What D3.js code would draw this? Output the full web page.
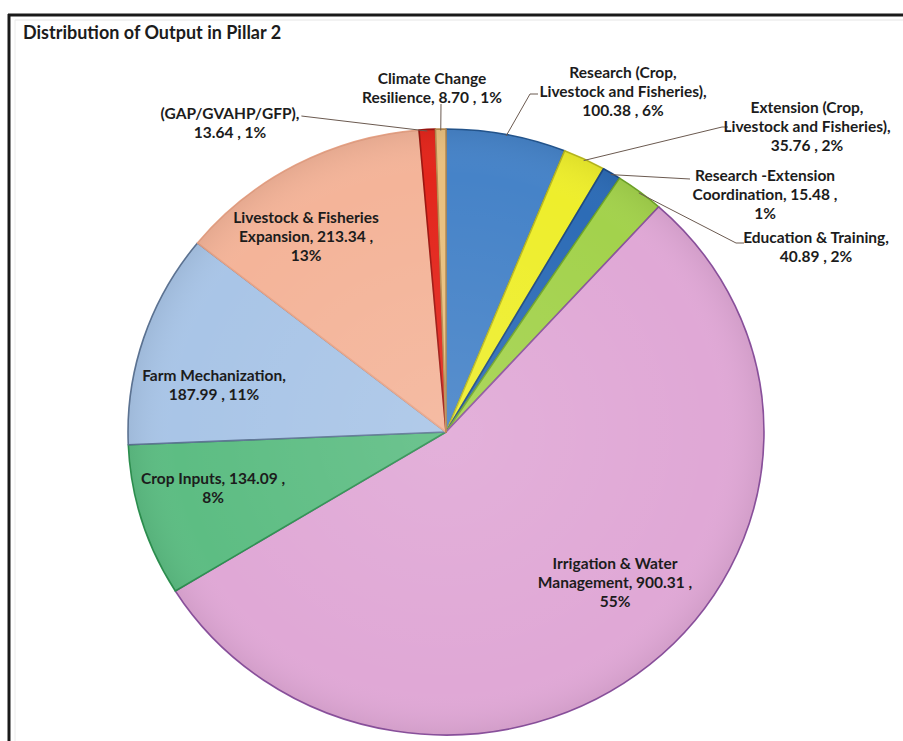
<!DOCTYPE html>
<html><head><meta charset="utf-8">
<script src="https://cdn.jsdelivr.net/npm/d3@7"></script>
<style>
html,body{margin:0;padding:0;background:#fff;}
svg{display:block;}
text{font-family:Lato,"Open Sans",sans-serif;font-weight:700;fill:#1c1c1c;}
</style></head>
<body>
<svg id="c" width="903" height="741"></svg>
<script>
// ---- data ----
const title = "Distribution of Output in Pillar 2";
const categories = [
  "Research (Crop, Livestock and Fisheries)",
  "Extension (Crop, Livestock and Fisheries)",
  "Research -Extension Coordination",
  "Education & Training",
  "Irrigation & Water Management",
  "Crop Inputs",
  "Farm Mechanization",
  "Livestock & Fisheries Expansion",
  "(GAP/GVAHP/GFP)",
  "Climate Change Resilience"
];
const values = [100.38, 35.76, 15.48, 40.89, 900.31, 134.09, 187.99, 213.34, 13.64, 8.70];
const valueLabels = ["100.38", "35.76", "15.48", "40.89", "900.31", "134.09", "187.99", "213.34", "13.64", "8.70"];
const percentLabels = ["6%", "2%", "1%", "2%", "55%", "8%", "11%", "13%", "1%", "1%"];

// ---- styles / layout (not data) ----
const colors = ["#4683c8", "#eeee2c", "#2d6cb6", "#a3d24c", "#e0a8d6", "#5dbd83", "#a9c5e7", "#f4b499", "#e3261c", "#e9c07f"];
const strokes = ["#24568f", "#b9b920", "#1d4a85", "#6fa52a", "#8c529f", "#2d9150", "#5e7595", "#e8a386", "#9c1510", "#b98c50"];
const labelLines = [
  ["Research (Crop,", "Livestock and Fisheries),", "100.38 , 6%"],
  ["Extension (Crop,", "Livestock and Fisheries),", "35.76 , 2%"],
  ["Research -Extension", "Coordination, 15.48 ,", "1%"],
  ["Education & Training,", "40.89 , 2%"],
  ["Irrigation & Water", "Management, 900.31 ,", "55%"],
  ["Crop Inputs, 134.09 ,", "8%"],
  ["Farm Mechanization,", "187.99 , 11%"],
  ["Livestock & Fisheries", "Expansion, 213.34 ,", "13%"],
  ["(GAP/GVAHP/GFP),", "13.64 , 1%"],
  ["Climate Change", "Resilience,  8.70 , 1%"]
];
const labelPos = [
  {x: 623, y: 73, leader: [[530, 94], [538, 94]]},
  {x: 807, y: 108, leader: [[722, 127], [728, 127]]},
  {x: 765, y: 176, leader: [[690, 179]]},
  {x: 816, y: 238, leader: [[736, 243], [744, 243]]},
  {x: 615, y: 564},
  {x: 213, y: 479},
  {x: 214, y: 376},
  {x: 306, y: 218},
  {x: 230, y: 114, leaderToText: true},
  {x: 432, y: 79, leader: [[441, 104]]}
];
const lineH = 19;
const labelSize = 15.5, titleSize = 18;

const W = 903, H = 741;
const cx = 446, cy = 432, rx = 318, ry = 303;

const svg = d3.select("#c");
svg.append("rect").attr("width", W).attr("height", H).attr("fill", "#fff");
svg.append("line").attr("x1", 8).attr("x2", W).attr("y1", 15).attr("y2", 15).attr("stroke", "#1a1a1a").attr("stroke-width", 3);
svg.append("line").attr("x1", 9).attr("x2", 9).attr("y1", 14).attr("y2", H).attr("stroke", "#1a1a1a").attr("stroke-width", 3);
svg.append("line").attr("x1", 15).attr("x2", W).attr("y1", 20).attr("y2", 20).attr("stroke", "#e6e6e6").attr("stroke-width", 1);
svg.append("line").attr("x1", 15).attr("x2", 15).attr("y1", 20).attr("y2", H).attr("stroke", "#ececec").attr("stroke-width", 1);

svg.append("text").attr("x", 23).attr("y", 39).attr("font-size", titleSize).text(title);

const pie = d3.pie().sort(null).value(d => d);
const arcs = pie(values);
const arc = d3.arc().innerRadius(0).outerRadius(rx);

const defs = svg.append("defs");
const grad = defs.append("radialGradient").attr("id", "shade").attr("cx", "50%").attr("cy", "50%").attr("r", "50%");
grad.append("stop").attr("offset", "0%").attr("stop-color", "#fff").attr("stop-opacity", 0.10);
grad.append("stop").attr("offset", "85%").attr("stop-color", "#fff").attr("stop-opacity", 0.0);
grad.append("stop").attr("offset", "100%").attr("stop-color", "#000").attr("stop-opacity", 0.06);

const g = svg.append("g").attr("transform", `translate(${cx},${cy}) scale(1,${ry / rx})`);
g.selectAll("path.slice").data(arcs).join("path")
  .attr("class", "slice")
  .attr("d", arc)
  .attr("fill", (d, i) => colors[i])
  .attr("stroke", (d, i) => strokes[i])
  .attr("stroke-width", 1.6)
  .attr("stroke-linejoin", "round")
  .attr("vector-effect", "non-scaling-stroke");
g.append("circle").attr("r", rx).attr("fill", "url(#shade)").attr("pointer-events", "none");

function outerPoint(a, k) {
  return [cx + rx * k * Math.sin(a), cy - ry * k * Math.cos(a)];
}

const leaderLayer = svg.append("g");
const labelLayer = svg.append("g");

arcs.forEach((d, i) => {
  const p = labelPos[i];
  const t = labelLayer.append("text").attr("text-anchor", "middle").attr("font-size", labelSize);
  const spans = labelLines[i].map((ln, j) =>
    t.append("tspan").attr("x", p.x).attr("y", p.y + j * lineH).attr("dy", "0.35em").text(ln));
  let leader = p.leader;
  if (p.leaderToText) {
    const w = spans[0].node().getComputedTextLength();
    leader = [[p.x + w / 2 + 2, p.y + 2]];
  }
  if (!leader) return;
  const mid = (d.startAngle + d.endAngle) / 2;
  const pts = [outerPoint(mid, 0.995)].concat(leader);
  leaderLayer.append("path")
    .attr("d", d3.line()(pts))
    .attr("fill", "none")
    .attr("stroke", "#6b5a50")
    .attr("stroke-width", 1);
});
</script>
</body></html>
